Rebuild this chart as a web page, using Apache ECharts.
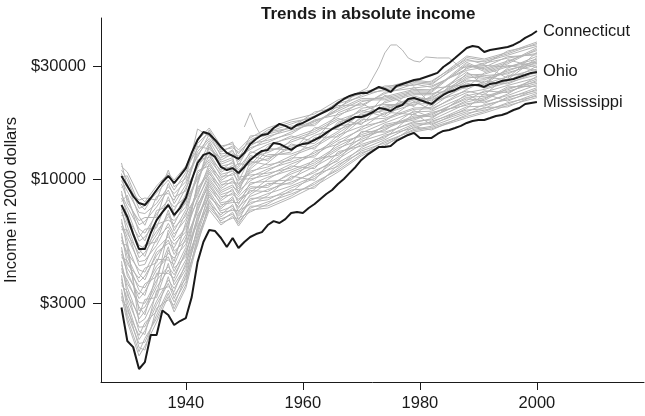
<!DOCTYPE html>
<html>
<head>
<meta charset="utf-8">
<title>Trends in absolute income</title>
<script src="https://cdn.jsdelivr.net/npm/echarts@6/dist/echarts.min.js"></script>
<style>
  html, body { margin: 0; padding: 0; background: #fff; }
  #chart { width: 645px; height: 416px; }
</style>
</head>
<body>
<div id="chart"></div>
<script>
// per-capita income, 2000 dollars
const years = [1929,1930,1931,1932,1933,1934,1935,1936,1937,1938,1939,1940,1941,1942,1943,1944,1945,1946,1947,1948,
  1949,1950,1951,1952,1953,1954,1955,1956,1957,1958,1959,1960,1961,1962,1963,1964,1965,1966,1967,1968,
  1969,1970,1971,1972,1973,1974,1975,1976,1977,1978,1979,1980,1981,1982,1983,1984,1985,1986,1987,1988,
  1989,1990,1991,1992,1993,1994,1995,1996,1997,1998,1999,2000]

const connecticut = [10330,9370,8500,7940,7790,8340,9010,9740,10330,9645,10330,11150,12920,14650,15830,15530,14650,13690,12920,12550,
  12190,12920,14100,14790,15380,15530,16460,17120,16790,16300,16950,17280,17790,18320,18860,19410,19980,20980,21810,22460,
  22900,23130,23130,23810,24510,24040,23350,24750,25230,25720,26230,26490,27010,27540,28090,29760,30950,32480,34100,35800,
  36500,36150,34440,35100,35450,35800,36150,36850,37940,39450,40610,42200]

const ohio = [7790,6935,5875,5080,5080,5935,6730,7275,7790,7070,7565,8340,9930,11715,12670,12920,12425,11270,10940,11150,
  10625,11270,12070,12670,13170,13300,14230,14100,13690,13300,13820,14100,14230,14650,15080,15690,16300,16790,17280,17790,
  18320,18320,18680,19220,19980,19790,19410,20180,20580,21810,22030,21600,21180,20780,21810,22680,23350,23810,24510,24750,
  24990,24990,24510,25230,25480,25980,26230,26490,27010,27540,28090,28360]

const mississippi = [2880,2080,1960,1585,1695,2204,2204,2795,2677,2430,2525,2600,3185,4475,5440,6110,6050,5655,5180,5655,
  5130,5440,5710,5875,5990,6415,6665,6540,6795,7210,7275,7210,7565,7865,8260,8670,9010,9555,10030,10640,
  11270,12070,12670,13170,13690,13690,13820,14510,14940,15380,15690,14940,14940,14940,15530,15990,16140,16460,16790,17280,
  17620,17790,17790,18140,18500,18680,19040,19600,19980,20780,20980,21180]

// the other states (grey), one row per year, one column per state
const grayYears = [1929,1930,1932,1933,1935,1937,1938,1940,1942,1944,1946,1948,1949,1951,1954,1958,1962,1966,1970,1974,1979,1982,1988,1991,1995,2000]

const grayRows = [
  // 1929
  [11330,10230,11720,10950,9885,9235,10580,9555,8625,8060,8925,8340,7790,7030,7530,7275,6570,6135,6795,6350,5540,5355,5930,5730,5000,4670,5175,4835,4365,4075,4515,4215,3680,3555,3940,3810,3325,3100,3440,3210],
  // 1930
  [10730,10340,9240,9960,8900,9590,7955,8260,7665,8575,6850,7385,6600,7110,5900,6360,5685,6125,5080,5475,4895,5275,4375,4715,4215,4545,3915,4060,3630,3770,3245,3500,3130,3370,2795,3015,2695,2900,2595,2500],
  // 1932
  [8500,7850,8170,7540,7250,6965,6695,6430,6180,5940,5705,5485,5270,5065,4865,4675,4495,4320,2790,2475,4150,3990,3830,3685,3540,3400,3270,3140,3020,2900,2680,2575,2380,2285,2195,2110,2030,1950,1875,1800],
  // 1933
  [8030,7445,8340,7730,7170,6400,6900,6645,5930,5500,6160,5710,5100,4725,5295,4910,4550,4380,2890,2580,4060,3765,4220,3910,3490,3235,3625,3360,3000,2680,3115,2780,2390,2215,2485,2300,2055,1905,2135,1980],
  // 1935
  [9370,9060,8180,8755,7910,8465,6905,7645,7145,7390,6240,6675,6030,6455,5450,5830,5265,5635,3630,3275,5090,4920,4445,4760,4300,4600,3885,4155,3755,4015,3170,3505,3065,3390,2765,2960,2675,2860,2585,2500],
  // 1937
  [10590,10255,10940,9930,9305,8720,9610,9010,8175,7665,8445,7915,6955,6730,7420,7180,6520,6310,6110,5030,5725,5370,5915,5545,4870,4565,5195,4715,4280,4010,4420,4145,3760,3525,3885,3640,3410,3100,3305,3200],
  // 1938
  [9930,9610,9300,9000,8705,8155,8425,7890,7635,7385,7150,6915,6695,6475,6265,6065,5870,5680,5495,4510,5315,5145,4980,4820,4660,4365,4225,4085,3955,3825,3585,3705,3465,3355,3245,3140,3040,2940,2845,2755],
  // 1940
  [11380,11040,10080,10710,9775,10390,8925,9485,8400,9200,7905,8660,7670,8150,7000,7440,6790,7215,6200,6590,6015,6390,5490,5835,5325,5660,4715,5165,4860,5010,4305,4575,4175,4440,3815,4050,3700,3930,3590,3480],
  // 1942
  [14545,13430,16300,14165,13075,12395,13790,12730,11750,11140,12070,11440,10560,10015,10850,10285,9000,8535,9245,8765,8310,8090,9750,9495,7670,7270,7875,7470,6895,6535,7080,6710,6195,6035,6365,5875,5570,5280,5720,5420],
  // 1944
  [16460,16125,15170,15800,14865,15485,13420,14565,13150,14270,12370,12885,12120,12625,11400,11875,11170,11635,10505,10945,10295,10725,13980,13700,10085,9885,9295,9685,9110,9490,8395,8925,8570,8745,7895,8225,7735,8060,7580,7420],
  // 1946
  [13820,13285,13550,13030,12775,12525,12280,12040,11350,11130,10915,10700,10490,10290,10090,9890,9700,9510,9325,9145,8965,8790,11810,11580,8620,8450,8285,8125,7965,7810,7660,7510,7365,7220,7080,6940,6805,6545,6675,6415],
  // 1948
  [14100,13575,14370,13835,13070,12585,13320,12825,11665,11230,11890,11445,10815,10410,11020,10610,10025,9650,10215,9835,9470,9290,12350,12115,8945,8615,9120,8780,8135,7985,8450,8295,7685,7400,7835,7540,7125,6860,7260,6990],
  // 1949
  [13300,13050,12100,12805,12330,12565,11430,11870,11215,11650,10595,11005,10395,10800,9455,9820,9280,9635,8765,9105,8600,8935,10200,10010,8440,8280,7825,8125,7675,7975,7250,7530,7115,7390,6720,6985,6595,6850,6470,6350],
  // 1951
  [14945,14390,15230,14665,13855,13340,14120,13595,12845,11465,13090,11685,12605,12135,11250,12365,11035,10625,11905,10830,10230,9850,10425,10040,9485,8790,9665,9305,8465,8960,8625,9130,8150,7845,8305,7995,7555,7280,7700,7415],
  // 1954
  [16460,16135,15505,15815,15200,14900,14605,14315,14035,13755,12450,12205,11965,13485,13220,12960,12700,11730,11500,11270,11050,10830,10615,10405,10200,10000,9805,9235,9050,8875,9610,9420,8700,8525,8360,8195,8030,7875,7720,7565],
  // 1958
  [17790,17450,16460,17110,16140,16780,15525,15830,14935,15230,13035,13555,14650,13290,13820,14365,12785,14090,12060,12540,11830,12300,11160,11600,10945,11380,9930,10735,9740,10125,9550,10525,9370,10325,8840,9190,8670,9010,8500,8340],
  // 1962
  [18860,18155,19220,18505,17150,16830,17815,17480,16200,14460,16510,14735,15900,15305,14185,15600,13920,13400,15020,13660,12900,12420,13150,12660,11960,11085,12190,11735,10675,11300,10880,11515,10275,9895,10475,10085,9525,9180,9710,9350],
  // 1966
  [21600,21215,20105,20840,19750,20470,18715,19395,18380,19050,16215,16805,18055,16505,17110,17735,15925,17420,15090,15640,14820,15365,14045,14560,13795,14300,12615,13550,12390,12840,11950,13310,12170,13075,11325,11740,11125,11530,10925,10730],
  // 1970
  [23350,22980,22620,22260,21910,20560,20235,21565,21225,20890,17535,17255,16985,19915,19600,19290,18985,18685,18390,18100,17815,16715,16450,16190,15435,15195,14955,14715,14485,14255,15935,15685,14030,13810,13590,13375,13165,12955,12750,12550],
  // 1974
  [24385,23665,24750,24020,21960,22970,23315,21635,22290,18630,22630,18910,21315,20685,18355,21000,20075,19485,20380,19780,18080,17550,19195,17815,16530,16040,16780,16285,15570,17030,15805,17290,15110,14885,15340,14665,14235,13820,14450,14020],
  // 1979
  [26230,25560,24905,25890,23650,25230,24270,23345,23955,24585,20245,20775,23045,20510,22165,22745,21880,22455,21045,21600,19985,21320,18735,19730,18495,19475,17790,18255,17560,18020,17335,19225,17115,18980,16460,16895,16250,16675,16040,15830],
  // 1982
  [25665,25045,25980,25350,23560,24440,24740,23275,23850,20600,24145,20855,22995,22440,20350,22715,21900,21370,22165,21630,20105,19620,21110,19860,18685,18235,18915,18455,17795,19145,18010,19380,17365,16945,17580,17155,16740,16140,16540,16335],
  // 1988
  [33100,32595,32095,31605,31120,29260,28810,30645,30175,29715,25075,24690,24315,28370,27935,27510,27085,26670,26265,25860,25465,23940,23575,23215,22165,21490,21825,21165,20840,20520,22860,22510,20205,19895,19590,19290,18995,18705,18420,18140],
  // 1991
  [32160,31730,30480,31310,28885,30890,29670,28500,29275,30070,24585,25255,28120,24915,27010,27745,26650,27375,25595,26295,24255,25945,22680,23930,22375,23610,21490,22075,21205,21780,20920,23295,20365,22985,19825,20640,19560,20095,19300,19040],
  // 1995
  [34290,33815,34770,33345,31100,32430,32885,30670,31535,26675,31980,27050,30245,29410,26305,29825,28600,27815,29005,28205,25940,25225,27430,25580,23855,23200,24190,23525,22560,24530,22880,24875,21940,21340,22250,21640,20750,20180,21040,20465],
  // 2000
  [37940,37420,36900,36395,35895,33955,33490,35400,34910,34430,29560,29150,28750,33025,32575,32125,31680,31245,30815,30390,29970,28355,27965,27580,26455,26090,25730,25380,25030,24685,27200,26825,24345,24010,23680,23350,23030,22715,22400,22100]
]

// the grey line that only starts in 1950 and spikes in the mid 70s
const alaskaYears = [1950,1951,1952,1953,1955,1958,1960,1963,1966,1969,1971,1973,1974,1975,1976,1977,1978,1979,1980,1981,1983,1985,1986,1987,1990,1995,2000]
const alaskaValues = [16620,19050,16620,15080,15990,16460,16950,17960,19790,22900,24270,29760,34100,36850,36850,35100,32480,31550,31240,32800,32480,32480,30950,29480,30350,29760,31240]

const xTicks = [1940, 1960, 1980, 2000]
const yTicks = [3000, 10000, 30000]
const yMin = 1397
const yMax = 47880

const font = '"Liberation Sans", Arial, Helvetica, sans-serif'
const ink = '#1a1a1a'
const lg = (v) => Math.log10(v)

const chart = echarts.init(document.getElementById('chart'))

const base = {
  type: 'line',
  symbol: 'none',
  showSymbol: false,
  silent: true,
  emphasis: { disabled: true }
}

const series = []
for (let i = 0; i < grayRows[0].length; i++) {
  series.push({
    ...base,
    data: grayYears.map((yr, k) => [yr, lg(grayRows[k][i])]),
    lineStyle: { color: '#b4b4b4', width: 1 }
  })
}
series.push({
  ...base,
  data: alaskaYears.map((yr, k) => [yr, lg(alaskaValues[k])]),
  lineStyle: { color: '#b4b4b4', width: 1 }
})

const highlighted = [['Connecticut', connecticut], ['Ohio', ohio], ['Mississippi', mississippi]]
highlighted.forEach(([name, vals]) => {
  series.push({
    ...base,
    name: name,
    z: 5,
    data: years.map((yr, k) => [yr, lg(vals[k])]),
    lineStyle: { color: ink, width: 2 },
    endLabel: {
      show: true,
      formatter: '{a}',
      color: ink,
      fontSize: 16.5,
      fontFamily: font,
      distance: 6
    }
  })
})

const axisCommon = {
  axisLine: { show: true, onZero: false, lineStyle: { color: ink, width: 1 } },
  splitLine: { show: false }
}

chart.setOption({
  animation: false,
  title: {
    text: 'Trends in absolute income',
    left: 261,
    top: 6,
    padding: 0,
    textStyle: { fontSize: 17, fontWeight: 'bold', color: ink, fontFamily: font }
  },
  grid: { left: 101, right: 1, top: 18, bottom: 34, outerBoundsMode: 'none' },
  xAxis: {
    type: 'value',
    min: 1925.5,
    max: 2018.3,
    ...axisCommon,
    axisTick: { show: true, length: 8, customValues: xTicks, lineStyle: { color: ink } },
    axisLabel: {
      customValues: xTicks,
      formatter: (v) => String(v),
      margin: 13,
      fontSize: 16.5,
      color: ink,
      fontFamily: font
    }
  },
  yAxis: {
    type: 'value',
    min: lg(yMin),
    max: lg(yMax),
    name: 'Income in 2000 dollars',
    nameLocation: 'middle',
    nameGap: 76,
    nameTextStyle: { fontSize: 16.5, color: ink, fontFamily: font },
    ...axisCommon,
    axisTick: { show: true, length: 8, customValues: yTicks.map(lg), lineStyle: { color: ink } },
    axisLabel: {
      customValues: yTicks.map(lg),
      formatter: (v) => '$' + Math.round(Math.pow(10, v)),
      margin: 15,
      fontSize: 16.5,
      color: ink,
      fontFamily: font
    }
  },
  series: series
})
</script>
</body>
</html>
